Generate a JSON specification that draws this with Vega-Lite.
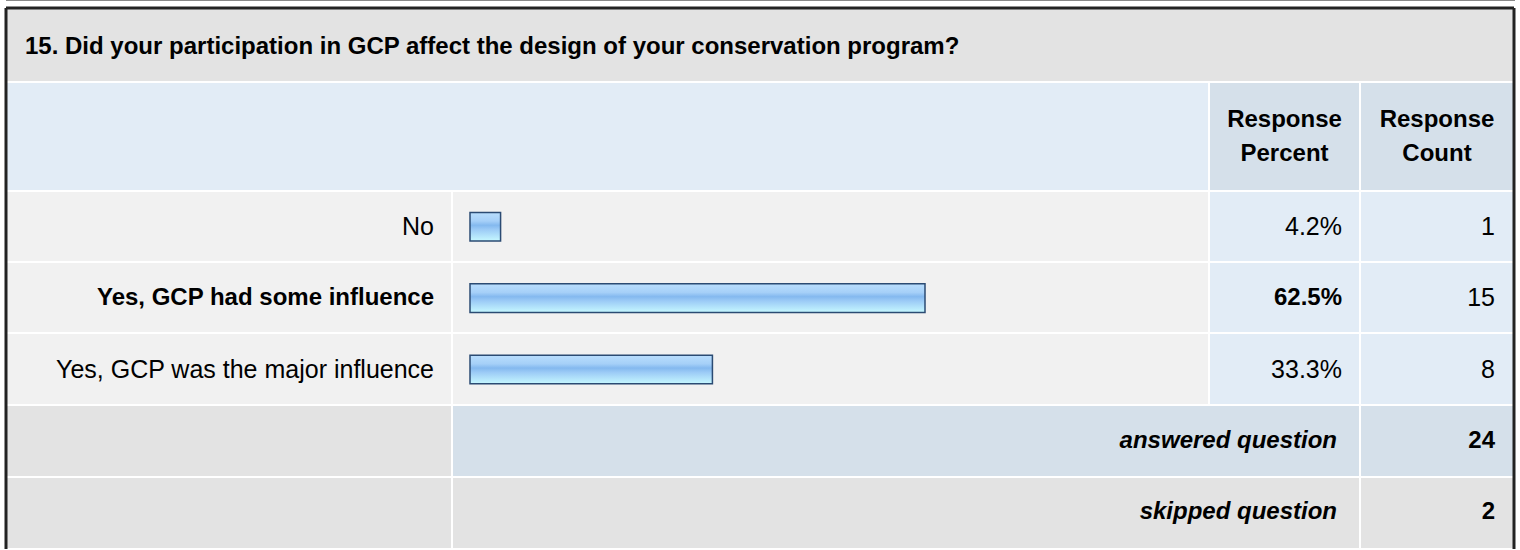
{
  "$schema": "https://vega.github.io/schema/vega-lite/v6.json",
  "width": 1520,
  "height": 550,
  "autosize": {"type": "none"},
  "padding": 0,
  "background": "#ffffff",
  "config": {"view": {"stroke": null}, "text": {"font": "Liberation Sans", "color": "#000000"}},
  "datasets": {
    "question": [{"question": "15. Did your participation in GCP affect the design of your conservation program?"}],
    "cells": [
      {"c0": 0, "c1": 4, "r0": 0, "r1": 1, "kind": "title"},
      {"c0": 0, "c1": 2, "r0": 1, "r1": 2, "kind": "header"},
      {"c0": 2, "c1": 3, "r0": 1, "r1": 2, "kind": "headerCell"},
      {"c0": 3, "c1": 4, "r0": 1, "r1": 2, "kind": "headerCell"},
      {"c0": 0, "c1": 1, "r0": 2, "r1": 3, "kind": "answerRow"},
      {"c0": 1, "c1": 2, "r0": 2, "r1": 3, "kind": "answerRow"},
      {"c0": 2, "c1": 3, "r0": 2, "r1": 3, "kind": "answerValue"},
      {"c0": 3, "c1": 4, "r0": 2, "r1": 3, "kind": "answerValue"},
      {"c0": 0, "c1": 1, "r0": 3, "r1": 4, "kind": "answerRow"},
      {"c0": 1, "c1": 2, "r0": 3, "r1": 4, "kind": "answerRow"},
      {"c0": 2, "c1": 3, "r0": 3, "r1": 4, "kind": "answerValue"},
      {"c0": 3, "c1": 4, "r0": 3, "r1": 4, "kind": "answerValue"},
      {"c0": 0, "c1": 1, "r0": 4, "r1": 5, "kind": "answerRow"},
      {"c0": 1, "c1": 2, "r0": 4, "r1": 5, "kind": "answerRow"},
      {"c0": 2, "c1": 3, "r0": 4, "r1": 5, "kind": "answerValue"},
      {"c0": 3, "c1": 4, "r0": 4, "r1": 5, "kind": "answerValue"},
      {"c0": 0, "c1": 1, "r0": 5, "r1": 6, "kind": "summaryGray"},
      {"c0": 1, "c1": 3, "r0": 5, "r1": 6, "kind": "summaryBlue"},
      {"c0": 3, "c1": 4, "r0": 5, "r1": 6, "kind": "summaryBlue"},
      {"c0": 0, "c1": 1, "r0": 6, "r1": 7, "kind": "summaryGray"},
      {"c0": 1, "c1": 3, "r0": 6, "r1": 7, "kind": "summaryGray"},
      {"c0": 3, "c1": 4, "r0": 6, "r1": 7, "kind": "summaryGray"}
    ],
    "answers": [
      {"label": "No", "pct": 0.042, "count": 1},
      {"label": "Yes, GCP had some influence", "pct": 0.625, "count": 15},
      {"label": "Yes, GCP was the major influence", "pct": 0.333, "count": 8}
    ],
    "summary": [
      {"label": "answered question", "count": 24},
      {"label": "skipped question", "count": 2}
    ]
  },
  "layer": [
    {
      "layer": [
        {
          "data": {"name": "cells"},
          "mark": {"type": "rect", "stroke": "#ffffff", "strokeWidth": 2},
          "encoding": {
            "x": {"field": "c0", "type": "quantitative", "axis": null, "scale": {"domain": [0, 1, 2, 3, 4], "range": [6, 452, 1209, 1360, 1514], "nice": false, "zero": false}},
            "x2": {"field": "c1"},
            "y": {"field": "r0", "type": "quantitative", "axis": null, "scale": {"domain": [0, 1, 2, 3, 4, 5, 6, 7], "range": [8, 82, 191, 262, 333, 405, 477, 549], "nice": false, "zero": false}},
            "y2": {"field": "r1"},
            "fill": {"field": "kind", "type": "nominal", "legend": null, "scale": {"domain": ["title", "header", "headerCell", "answerRow", "answerValue", "summaryGray", "summaryBlue"], "range": ["#e3e3e3", "#e2ecf6", "#d5e0ea", "#f1f1f1", "#e2ecf6", "#e3e3e3", "#d5e0ea"]}}
          }
        },
        {
          "data": {"name": "question"},
          "mark": {"type": "text", "align": "left", "baseline": "middle", "dx": 19, "dy": 2, "fontSize": 24, "fontWeight": "bold"},
          "encoding": {
            "x": {"datum": 0, "type": "quantitative"},
            "y": {"datum": 0.5, "type": "quantitative"},
            "text": {"field": "question"}
          }
        },
        {
          "data": {"values": [{"header": "Response\nPercent"}]},
          "mark": {"type": "text", "align": "center", "baseline": "middle", "dy": -17, "fontSize": 24, "fontWeight": "bold", "lineBreak": "\n", "lineHeight": 34},
          "encoding": {
            "x": {"datum": 2.5, "type": "quantitative"},
            "y": {"datum": 1.5, "type": "quantitative"},
            "text": {"field": "header"}
          }
        },
        {
          "data": {"values": [{"header": "Response\nCount"}]},
          "mark": {"type": "text", "align": "center", "baseline": "middle", "dy": -17, "fontSize": 24, "fontWeight": "bold", "lineBreak": "\n", "lineHeight": 34},
          "encoding": {
            "x": {"datum": 3.5, "type": "quantitative"},
            "y": {"datum": 1.5, "type": "quantitative"},
            "text": {"field": "header"}
          }
        },
        {
          "data": {"values": [{}]},
          "mark": {"type": "rule", "stroke": "#222222", "strokeWidth": 3},
          "encoding": {
            "x": {"datum": 0, "type": "quantitative"},
            "y": {"datum": 0, "type": "quantitative"},
            "y2": {"datum": 7}
          }
        },
        {
          "data": {"values": [{}]},
          "mark": {"type": "rule", "stroke": "#222222", "strokeWidth": 3},
          "encoding": {
            "x": {"datum": 4, "type": "quantitative"},
            "y": {"datum": 0, "type": "quantitative"},
            "y2": {"datum": 7}
          }
        },
        {
          "data": {"values": [{}]},
          "mark": {"type": "rule", "stroke": "#222222", "strokeWidth": 3},
          "encoding": {
            "x": {"datum": 0, "type": "quantitative"},
            "x2": {"datum": 4},
            "y": {"datum": 0, "type": "quantitative"}
          }
        }
      ]
    },
    {
      "encoding": {
        "y": {"field": "label", "type": "nominal", "axis": null, "scale": {"domain": ["No", "Yes, GCP had some influence", "Yes, GCP was the major influence", "answered question", "skipped question"], "range": [191, 548], "paddingInner": 0.6, "paddingOuter": 0.3}}
      },
      "layer": [
        {
          "data": {"name": "answers"},
          "mark": {
            "type": "bar",
            "stroke": "#2b4b73",
            "strokeWidth": 1.5,
            "fill": {"gradient": "linear", "x1": 0, "y1": 0, "x2": 0, "y2": 1, "stops": [
              {"offset": 0, "color": "#b9defd"},
              {"offset": 0.3, "color": "#a6d0f8"},
              {"offset": 0.45, "color": "#84b9ef"},
              {"offset": 0.6, "color": "#9ccbf6"},
              {"offset": 1, "color": "#c6f8ff"}
            ]}
          },
          "encoding": {
            "x": {"field": "pct", "type": "quantitative", "axis": null, "scale": {"domain": [0, 1], "range": [470, 1198], "nice": false}}
          }
        },
        {
          "data": {"name": "answers"},
          "transform": [{"joinaggregate": [{"op": "max", "field": "count", "as": "maxCount"}]}, {"filter": "datum.count < datum.maxCount"}],
          "mark": {"type": "text", "align": "right", "baseline": "middle", "dx": -18, "fontSize": 25},
          "encoding": {
            "x": {"datum": 1, "type": "quantitative", "scale": {"domain": [0, 1, 2, 3, 4], "range": [6, 452, 1209, 1360, 1514], "nice": false, "zero": false}},
            "text": {"field": "label"}
          }
        },
        {
          "data": {"name": "answers"},
          "transform": [{"joinaggregate": [{"op": "max", "field": "count", "as": "maxCount"}]}, {"filter": "datum.count === datum.maxCount"}],
          "mark": {"type": "text", "align": "right", "baseline": "middle", "dx": -18, "fontSize": 24, "fontWeight": "bold"},
          "encoding": {
            "x": {"datum": 1, "type": "quantitative", "scale": {"domain": [0, 1, 2, 3, 4], "range": [6, 452, 1209, 1360, 1514], "nice": false, "zero": false}},
            "text": {"field": "label"}
          }
        },
        {
          "data": {"name": "answers"},
          "transform": [{"joinaggregate": [{"op": "max", "field": "count", "as": "maxCount"}]}, {"filter": "datum.count < datum.maxCount"}],
          "mark": {"type": "text", "align": "right", "baseline": "middle", "dx": -18, "fontSize": 25},
          "encoding": {
            "x": {"datum": 3, "type": "quantitative", "scale": {"domain": [0, 1, 2, 3, 4], "range": [6, 452, 1209, 1360, 1514], "nice": false, "zero": false}},
            "text": {"field": "pct", "type": "quantitative", "format": ".1%"}
          }
        },
        {
          "data": {"name": "answers"},
          "transform": [{"joinaggregate": [{"op": "max", "field": "count", "as": "maxCount"}]}, {"filter": "datum.count === datum.maxCount"}],
          "mark": {"type": "text", "align": "right", "baseline": "middle", "dx": -18, "fontSize": 24, "fontWeight": "bold"},
          "encoding": {
            "x": {"datum": 3, "type": "quantitative", "scale": {"domain": [0, 1, 2, 3, 4], "range": [6, 452, 1209, 1360, 1514], "nice": false, "zero": false}},
            "text": {"field": "pct", "type": "quantitative", "format": ".1%"}
          }
        },
        {
          "data": {"name": "answers"},
          "mark": {"type": "text", "align": "right", "baseline": "middle", "dx": -19, "fontSize": 25},
          "encoding": {
            "x": {"datum": 4, "type": "quantitative", "scale": {"domain": [0, 1, 2, 3, 4], "range": [6, 452, 1209, 1360, 1514], "nice": false, "zero": false}},
            "text": {"field": "count", "type": "quantitative"}
          }
        },
        {
          "data": {"name": "summary"},
          "mark": {"type": "text", "align": "right", "baseline": "middle", "dx": -23, "fontSize": 24, "fontWeight": "bold", "fontStyle": "italic"},
          "encoding": {
            "x": {"datum": 3, "type": "quantitative", "scale": {"domain": [0, 1, 2, 3, 4], "range": [6, 452, 1209, 1360, 1514], "nice": false, "zero": false}},
            "text": {"field": "label"}
          }
        },
        {
          "data": {"name": "summary"},
          "mark": {"type": "text", "align": "right", "baseline": "middle", "dx": -19, "fontSize": 24, "fontWeight": "bold"},
          "encoding": {
            "x": {"datum": 4, "type": "quantitative", "scale": {"domain": [0, 1, 2, 3, 4], "range": [6, 452, 1209, 1360, 1514], "nice": false, "zero": false}},
            "text": {"field": "count", "type": "quantitative"}
          }
        }
      ],
      "resolve": {"scale": {"x": "independent"}}
    }
  ],
  "resolve": {"scale": {"x": "independent", "y": "independent", "fill": "independent"}}
}
